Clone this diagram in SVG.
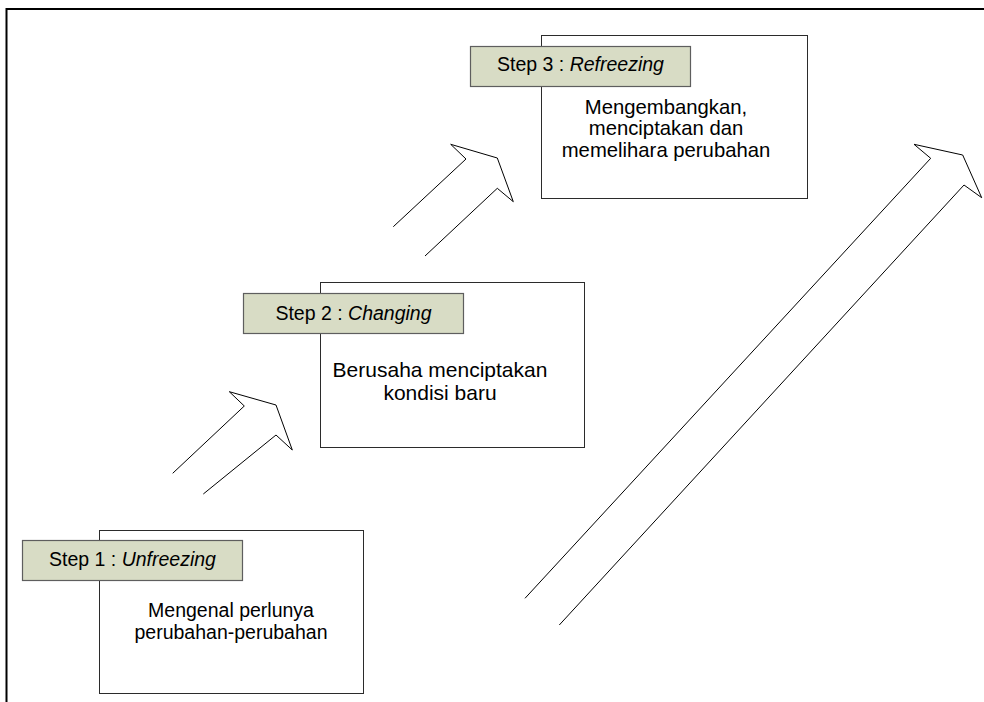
<svg xmlns="http://www.w3.org/2000/svg" width="984" height="702" viewBox="0 0 984 702">
<style>
.frame{fill:none;stroke:#000;stroke-width:2}
.box{fill:#fff;stroke:#2b2b2b;stroke-width:1}
.lbl{fill:#d8dcc5;stroke:#5e5e5e;stroke-width:1.2}
.arr{fill:none;stroke:#000;stroke-width:1;stroke-linejoin:miter}
text{font-family:"Liberation Sans",Arial,sans-serif;font-size:19.5px;fill:#000}
.c{text-anchor:middle}
.b2{font-size:21px}
.b3{font-size:20.3px}
</style>
<rect width="984" height="702" fill="#fff"/>
<path class="frame" d="M6.5,702 V9 H984"/>
<g id="connectors">
<path class="arr" d="M172.7,473.3 L244.3,406 L229.3,391.7 L276,405 L292.3,450 L276,435 L203.3,494"/>
<path class="arr" d="M393.3,226.7 L466,159 L450.7,144.3 L497.3,158 L513.3,201.7 L497.3,188.3 L425,256"/>
<path class="arr" d="M525,598.3 L930.7,158.3 L914,144.3 L962.7,155 L981.7,197.7 L964,185 L559.3,625"/>
</g>
<g id="step1">
<rect class="box" x="99.5" y="530.5" width="264" height="163"/>
<rect class="lbl" x="22.5" y="540.5" width="220" height="40"/>
<text class="c" x="132.5" y="566">Step 1 : <tspan font-style="italic">Unfreezing</tspan></text>
<text class="c" x="231" y="617">Mengenal perlunya</text>
<text class="c" x="231" y="639">perubahan-perubahan</text>
</g>
<g id="step2">
<rect class="box" x="320.5" y="282.5" width="264" height="165"/>
<rect class="lbl" x="243.5" y="293.5" width="220" height="40"/>
<text class="c" x="353.5" y="319.5">Step 2 : <tspan font-style="italic">Changing</tspan></text>
<text class="c b2" x="440" y="377">Berusaha menciptakan</text>
<text class="c b2" x="440" y="399.5">kondisi baru</text>
</g>
<g id="step3">
<rect class="box" x="541.5" y="35.5" width="266" height="163"/>
<rect class="lbl" x="470.5" y="46.5" width="220" height="40"/>
<text class="c" x="580.5" y="71">Step 3 : <tspan font-style="italic">Refreezing</tspan></text>
<text class="c b3" x="666" y="113.5">Mengembangkan,</text>
<text class="c b3" x="666" y="135">menciptakan dan</text>
<text class="c b3" x="666" y="156.5">memelihara perubahan</text>
</g>
</svg>
